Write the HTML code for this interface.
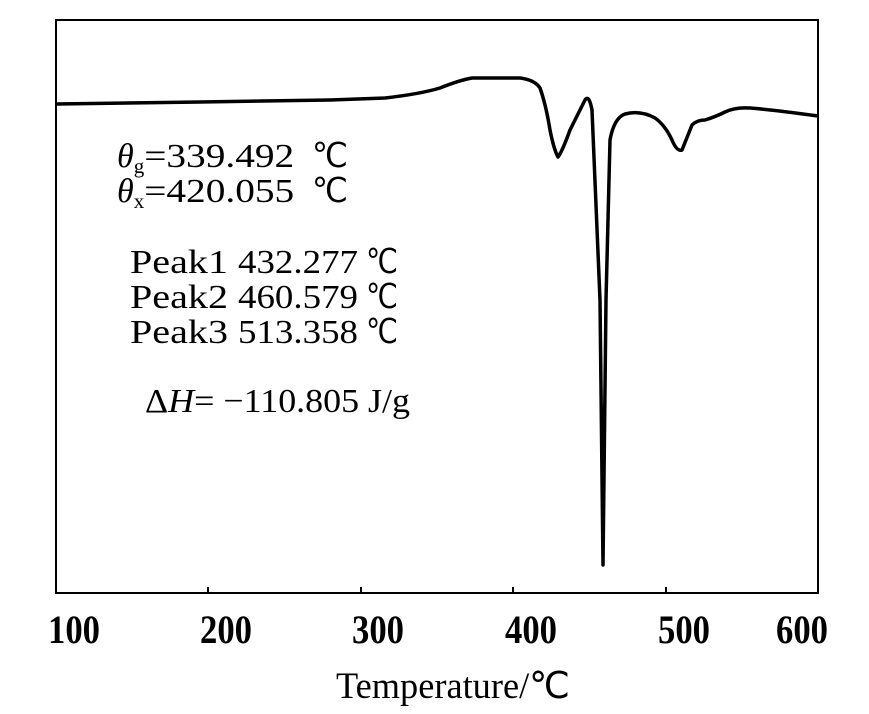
<!DOCTYPE html>
<html><head><style>
body{margin:0;background:#fff;}
svg text{font-family:"Liberation Serif",serif;fill:#000;}
</style></head><body>
<svg width="869" height="709" viewBox="0 0 869 709" xmlns="http://www.w3.org/2000/svg">
<rect x="56" y="20" width="762" height="573" fill="none" stroke="#000" stroke-width="2"/>
<g stroke="#000" stroke-width="2">
<line x1="208" y1="593" x2="208" y2="587"/><line x1="361" y1="593" x2="361" y2="587"/><line x1="513" y1="593" x2="513" y2="587"/><line x1="666" y1="593" x2="666" y2="587"/>
</g>
<path d="M56,104 L200,102 L330,100 L385,98 Q420,94 440,88 Q460,80 472,78 L520,78 Q535,80 540,88 Q546,105 550,130 Q554,150 558,157 Q562,152 570,130 Q580,110 585,100 Q589,94 592,110 L600,300 L603,565 L606,300 L610,140 Q614,118 625,114 Q640,110 655,118 Q665,125 672,140 Q677,152 682,150 Q688,135 692,125 Q697,120 705,120 Q715,117 725,112 Q735,107 750,108 Q775,110 818,116" fill="none" stroke="#000" stroke-width="3.5" stroke-linejoin="round"/>
<g font-size="34">
<text x="117" y="167"><tspan font-style="italic">θ</tspan><tspan font-size="21" dy="6">g</tspan><tspan dy="-6" textLength="150" lengthAdjust="spacingAndGlyphs">=339.492</tspan></text>
<text x="312" y="167" textLength="36" lengthAdjust="spacingAndGlyphs">℃</text>
<text x="117" y="202"><tspan font-style="italic">θ</tspan><tspan font-size="21" dy="6">x</tspan><tspan dy="-6" textLength="150" lengthAdjust="spacingAndGlyphs">=420.055</tspan></text>
<text x="312" y="202" textLength="36" lengthAdjust="spacingAndGlyphs">℃</text>
<text x="130" y="273" textLength="98" lengthAdjust="spacingAndGlyphs">Peak1</text><text x="238" y="273" textLength="120" lengthAdjust="spacingAndGlyphs">432.277</text><text x="366" y="273" textLength="32" lengthAdjust="spacingAndGlyphs">℃</text>
<text x="130" y="308" textLength="98" lengthAdjust="spacingAndGlyphs">Peak2</text><text x="238" y="308" textLength="120" lengthAdjust="spacingAndGlyphs">460.579</text><text x="366" y="308" textLength="32" lengthAdjust="spacingAndGlyphs">℃</text>
<text x="130" y="343" textLength="98" lengthAdjust="spacingAndGlyphs">Peak3</text><text x="238" y="343" textLength="120" lengthAdjust="spacingAndGlyphs">513.358</text><text x="366" y="343" textLength="32" lengthAdjust="spacingAndGlyphs">℃</text>
<text x="145" y="412" textLength="265" lengthAdjust="spacingAndGlyphs">Δ<tspan font-style="italic">H</tspan>= −110.805 J/g</text>
</g>
<g font-size="40" font-weight="bold">
<text x="48" y="643" textLength="52" lengthAdjust="spacingAndGlyphs">100</text>
<text x="200" y="643" textLength="52" lengthAdjust="spacingAndGlyphs">200</text>
<text x="352" y="643" textLength="52" lengthAdjust="spacingAndGlyphs">300</text>
<text x="505" y="643" textLength="52" lengthAdjust="spacingAndGlyphs">400</text>
<text x="658" y="643" textLength="52" lengthAdjust="spacingAndGlyphs">500</text>
<text x="776" y="643" textLength="52" lengthAdjust="spacingAndGlyphs">600</text>
</g>
<text x="336" y="698" font-size="37" textLength="234" lengthAdjust="spacingAndGlyphs">Temperature/℃</text>
</svg>
</body></html>
